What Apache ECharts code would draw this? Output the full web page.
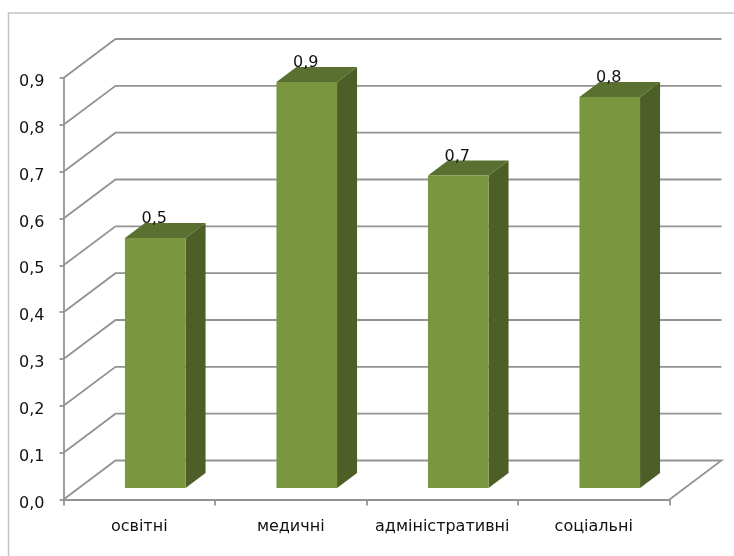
<!DOCTYPE html>
<html>
<head>
<meta charset="utf-8">
<style>html,body{margin:0;padding:0;background:#fff}#chart{width:734px;height:556px}</style>
<script src="https://cdn.jsdelivr.net/npm/echarts@6/dist/echarts.min.js"></script>
</head>
<body>
<div id="chart"></div>
<script>
const categories = ['освітні', 'медичні', 'адміністративні', 'соціальні'];
const shares = [0.534, 0.867, 0.667, 0.835];
const gridValues = [0, 0.1, 0.2, 0.3, 0.4, 0.5, 0.6, 0.7, 0.8, 0.9];

// Oblique projection of the 3D box: wall depth and bar depth, in pixels.
const WALL_DX = 52, WALL_DY = -39;
const BAR_DX = 20, BAR_DY = -15;
const BAR_SHIFT_X = 16, BAR_SHIFT_Y = -11.5;
const LINE = '#939393';
const LINE_W = 1.8;
const FONT = '"DejaVu Sans"';
const comma = v => v.toFixed(1).replace('.', ',');

const chart = echarts.init(document.getElementById('chart'), null, {renderer: 'canvas'});
chart.setOption({
  animation: false,
  backgroundColor: '#fff',
  grid: {left: 63.5, top: 78, width: 606, height: 421.5},
  graphic: [{
    type: 'rect', silent: true, z: 0,
    shape: {x: 8.5, y: 13, width: 900, height: 800},
    style: {fill: 'none', stroke: '#c4c4c4', lineWidth: 1.5}
  }],
  xAxis: {
    type: 'category', data: categories,
    axisLine: {lineStyle: {color: LINE, width: LINE_W}},
    axisTick: {show: true, alignWithLabel: false, length: 6, lineStyle: {color: LINE, width: LINE_W}},
    axisLabel: {color: '#111', fontFamily: FONT, fontSize: 16, margin: 19, interval: 0},
    splitLine: {show: false}
  },
  yAxis: {
    type: 'value', min: 0, max: 0.9, interval: 0.1,
    axisLine: {show: true, lineStyle: {color: LINE, width: LINE_W}},
    axisTick: {show: true, length: 4, lineStyle: {color: LINE, width: LINE_W}},
    axisLabel: {color: '#111', fontFamily: FONT, fontSize: 16, margin: 19, formatter: comma,
                verticalAlign: 'top', padding: [-4, 0, 0, 0]},
    splitLine: {show: false}
  },
  series: [{
    // Side and back wall gridlines
    type: 'custom', coordinateSystem: 'cartesian2d', clip: false, z: 1,
    silent: true,
    data: gridValues.map(v => [0, v]),
    encode: {x: 0, y: 1},
    renderItem(params, api) {
      const y = api.coord([0, api.value(1)])[1];
      const x0 = params.coordSys.x, x1 = x0 + params.coordSys.width;
      const pts = [[x0, y], [x0 + WALL_DX, y + WALL_DY], [x1 + WALL_DX, y + WALL_DY]];
      if (api.value(1) === 0) pts.push([x1, y]);
      return {type: 'polyline', shape: {points: pts},
              style: {fill: 'none', stroke: LINE, lineWidth: LINE_W}};
    }
  }, {
    // Box-shaped bars with a value label above each
    type: 'custom', coordinateSystem: 'cartesian2d', clip: false, z: 2,
    silent: true,
    data: shares.map((v, i) => [i, v]),
    encode: {x: 0, y: 1},
    renderItem(params, api) {
      const top = api.coord([api.value(0), api.value(1)]);
      const base = api.coord([api.value(0), 0]);
      const w = api.size([1, 0])[0] * 0.4;
      const l = top[0] + BAR_SHIFT_X - w / 2, r = l + w;
      const t = top[1] + BAR_SHIFT_Y, b = base[1] + BAR_SHIFT_Y;
      return {type: 'group', children: [
        {type: 'polygon', shape: {points: [[l, t], [r, t], [r + BAR_DX, t + BAR_DY], [l + BAR_DX, t + BAR_DY]]},
         style: {fill: '#5a7031'}},
        {type: 'polygon', shape: {points: [[r, t], [r + BAR_DX, t + BAR_DY], [r + BAR_DX, b + BAR_DY], [r, b]]},
         style: {fill: '#4d5f27'}},
        {type: 'rect', shape: {x: l, y: t, width: w, height: b - t},
         style: {fill: '#7a963e'}},
        {type: 'text', z2: 5, style: {text: comma(api.value(1)), x: (l + r) / 2 - 1, y: t - 19,
          align: 'center', verticalAlign: 'middle', fill: '#111', font: '16px ' + FONT}}
      ]};
    }
  }]
});
</script>
</body>
</html>
